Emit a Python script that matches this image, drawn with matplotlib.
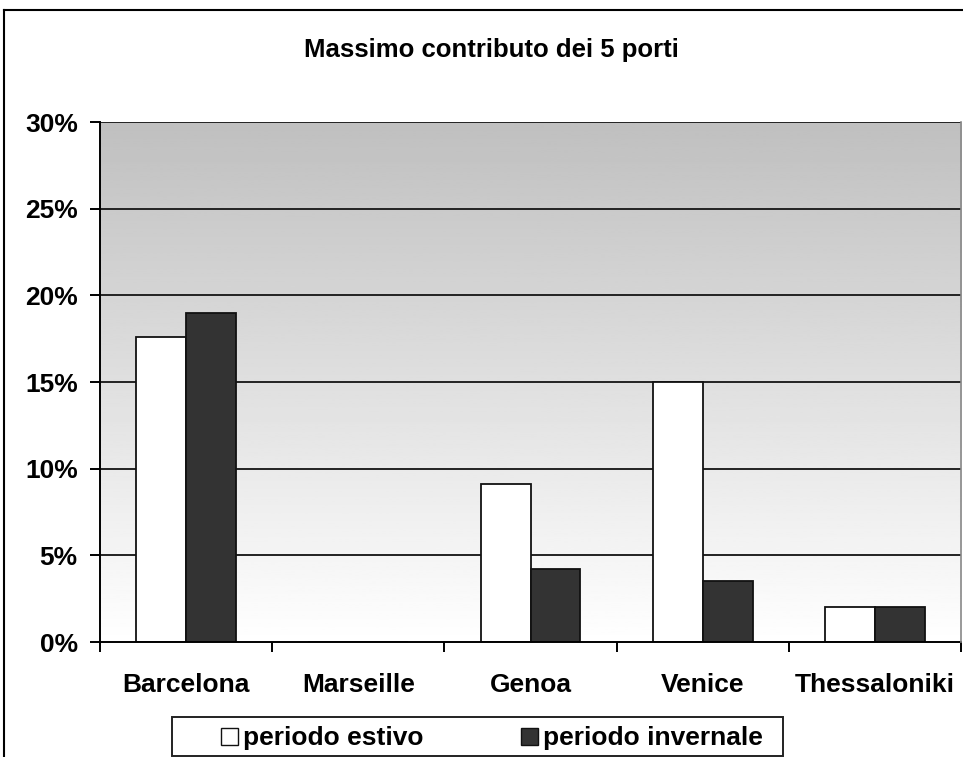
import numpy as np
import matplotlib
matplotlib.use("Agg")
import matplotlib.pyplot as plt
from matplotlib.patches import Patch, Rectangle
from matplotlib.lines import Line2D
from matplotlib.ticker import FixedLocator, PercentFormatter

plt.rcParams['font.family'] = ['Liberation Sans', 'DejaVu Sans']

# ------------------------------------------------------------
# Data
# ------------------------------------------------------------
ports = ["Barcelona", "Marseille", "Genoa", "Venice", "Thessaloniki"]
estivo = [17.6, 0.0, 9.1, 15.0, 2.0]
invernale = [19.0, 0.0, 4.2, 3.5, 2.0]
labels = ["periodo estivo", "periodo invernale"]
yticks = [0, 5, 10, 15, 20, 25, 30]

W, H = 963, 757
fig = plt.figure(figsize=(W / 100, H / 100), dpi=100)
fig.patch.set_facecolor('white')
ax = fig.add_axes([100 / W, 1 - 642 / H, 861 / W, 520 / H])

x = np.arange(len(ports))
width = 0.29

# Gradient background: grey at the top fading to white
grad = np.linspace(0.75, 1.0, 256).reshape(-1, 1)
ax.imshow(grad, cmap='gray', vmin=0, vmax=1, aspect='auto', origin='upper',
          extent=(-0.5, len(ports) - 0.5, 0, 30), zorder=0)

for y in yticks[1:]:
    ax.axhline(y, color='#222222', linewidth=1.4, zorder=1)

ax.bar(x - width / 2, estivo, width, color='white', edgecolor='#111111',
       linewidth=1.3, zorder=2, label=labels[0])
ax.bar(x + width / 2, invernale, width, color='#333333', edgecolor='#111111',
       linewidth=1.3, zorder=2, label=labels[1])

ax.set_xlim(-0.5, len(ports) - 0.5)
ax.set_ylim(0, 30)

# Axes styling
for side in ['top', 'right']:
    ax.spines[side].set_visible(False)
ax.spines['left'].set_linewidth(1.4)
ax.spines['bottom'].set_linewidth(1.4)
ax.plot([1, 1], [0, 1], transform=ax.transAxes, color='#888888',
        linewidth=1.2, clip_on=False, zorder=3)

ax.set_yticks(yticks)
ax.yaxis.set_major_formatter(PercentFormatter(decimals=0))
ax.tick_params(axis='y', direction='out', length=7, width=1.4, pad=9,
               labelsize=19)
for t in ax.get_yticklabels():
    t.set_fontweight('bold')

ax.set_xticks(x)
ax.set_xticklabels(ports, fontsize=19, fontweight='bold')
ax.tick_params(axis='x', which='major', length=0, pad=22)
ax.xaxis.set_minor_locator(FixedLocator(np.arange(len(ports) + 1) - 0.5))
ax.tick_params(axis='x', which='minor', direction='out', length=7, width=1.4)

fig.text(491 / W, 1 - 57 / H, "Massimo contributo dei 5 porti",
         ha='center', va='baseline', fontsize=18.5, fontweight='bold')

# Legend with its own box
handles = [Patch(facecolor='white', edgecolor='#111111', linewidth=1.0),
           Patch(facecolor='#333333', edgecolor='#111111', linewidth=1.0)]
fig.legend(handles, labels, loc='center', ncol=2,
           bbox_to_anchor=(492 / W, 1 - 738.5 / H),
           prop={'size': 19, 'weight': 'bold'}, frameon=False,
           handlelength=0.64, handleheight=0.64, handletextpad=0.2,
           columnspacing=3.7, borderpad=0.0)
fig.add_artist(Rectangle((172 / W, 1 - 756 / H), 611 / W, 39 / H,
                         transform=fig.transFigure, facecolor='none',
                         edgecolor='#222222', linewidth=1.4))

# Outer chart frame
fig.add_artist(Line2D([4 / W, 4 / W], [0, 1 - 10 / H],
                      transform=fig.transFigure, color='black', linewidth=1.5))
fig.add_artist(Line2D([4 / W, 1], [1 - 10 / H, 1 - 10 / H],
                      transform=fig.transFigure, color='black', linewidth=1.5))

fig.savefig("out.png", dpi=100)
